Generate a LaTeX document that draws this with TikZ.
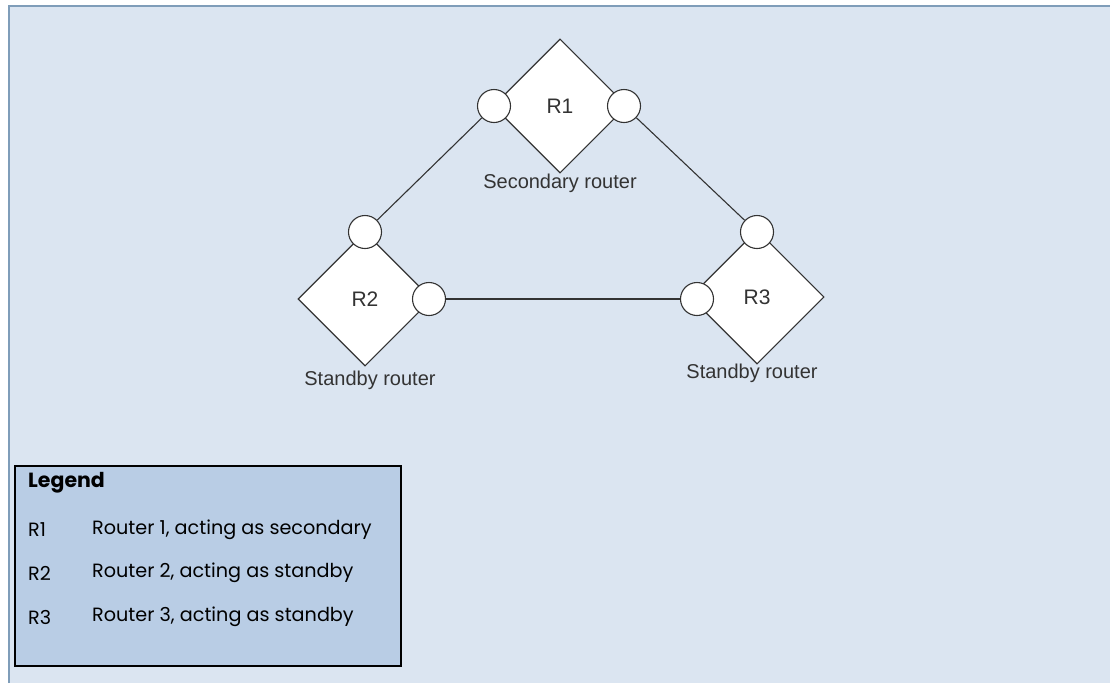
\documentclass[tikz,border=0pt]{standalone}
\usepackage{fontspec}
\setmainfont{Liberation Sans}
\newfontfamily\legendfont{Poppins}
\usetikzlibrary{shapes.geometric}
\definecolor{panelbg}{HTML}{DBE5F1}
\definecolor{panelline}{HTML}{7F9DB9}
\definecolor{legendbg}{HTML}{B9CDE5}
\definecolor{ink}{HTML}{333333}
\tikzset{
  router/.style={diamond, draw=ink, fill=white, line width=1.1pt, minimum width=134pt, minimum height=134pt, inner sep=0pt, font=\fontsize{21}{24}\selectfont, text=ink},
  port/.style={circle, draw=ink, fill=white, line width=1.1pt, minimum size=33pt, inner sep=0pt},
  link/.style={draw=ink, line width=1.1pt},
  caption/.style={font=\fontsize{20}{24}\selectfont, text=ink},
  legtext/.style={anchor=west, font=\legendfont\fontsize{19.2}{22}\selectfont, text=black, inner sep=0pt}
}
\begin{document}
\begin{tikzpicture}[x=1pt,y=-1pt]
\useasboundingbox (0,0) rectangle (1110,683);
\fill[white] (0,0) rectangle (1110,683);
\fill[panelbg] (9,6) rectangle (1110,683);
\draw[panelline, line width=2pt] (9,683) -- (9,6) -- (1110,6);

% routers
\node[router] (r1) at (560,106) {R1};
\node[router] (r2) at (365,299) {R2};
\node[router] (r3) at (757,297) {R3};

% ports
\node[port] (p1l) at (494,106) {};
\node[port] (p1r) at (624,106) {};
\node[port] (p2t) at (365,232) {};
\node[port] (p2r) at (429,299) {};
\node[port] (p3t) at (757,232) {};
\node[port] (p3l) at (697,299) {};

% links
\path[link] (p1l) -- (p2t);
\path[link] (p1r) -- (p3t);
\path[link] (p2r) -- (p3l);

% captions
\node[caption] (c1) at (560,183) {Secondary router};
\node[caption] (c2) at (370,380) {Standby router};
\node[caption] (c3) at (752,373) {Standby router};

% legend
\node[draw=black, fill=legendbg, line width=2pt, minimum width=386pt, minimum height=200pt, inner sep=0pt] (leg) at (208,566) {};
\node[legtext, font=\legendfont\bfseries\fontsize{20.5}{24}\selectfont] (lt) at (28,483) {Legend};
\node[legtext] (l1a) at (28,530) {R1};
\node[legtext] (l1b) at (92,530) {Router 1, acting as secondary};
\node[legtext] (l2a) at (28,573) {R2};
\node[legtext] (l2b) at (92,573) {Router 2, acting as standby};
\node[legtext] (l3a) at (28,617) {R3};
\node[legtext] (l3b) at (92,617) {Router 3, acting as standby};
\end{tikzpicture}
\end{document}
